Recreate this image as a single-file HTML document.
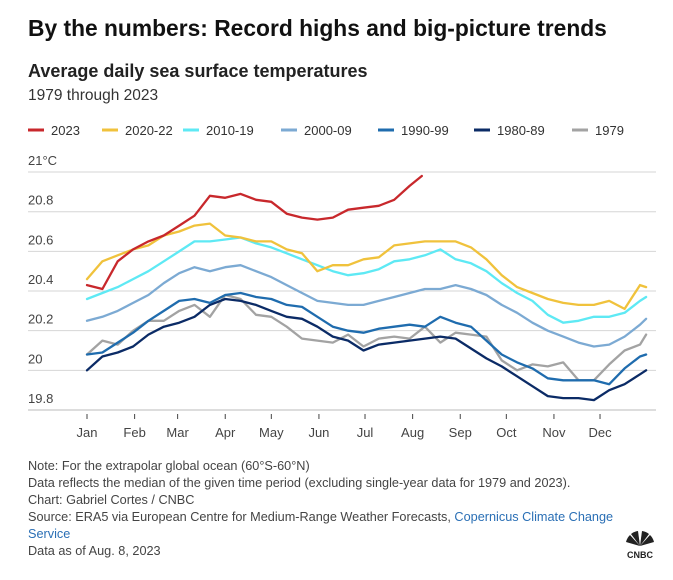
<!DOCTYPE html>
<html><head><meta charset="utf-8"><style>
body{margin:0;background:#fff;font-family:"Liberation Sans",sans-serif;}
#wrap{position:relative;width:673px;height:580px;overflow:hidden;}
.t{position:absolute;white-space:nowrap;}
</style></head><body>
<div id="wrap">
<div class="t" style="left:28px;top:15px;font-size:22.8px;font-weight:bold;color:#111;">By the numbers: Record highs and big-picture trends</div>
<div class="t" style="left:28px;top:61px;font-size:18px;font-weight:bold;color:#222;">Average daily sea surface temperatures</div>
<div class="t" style="left:28px;top:87px;font-size:15.5px;color:#333;">1979 through 2023</div>
<svg id="chart" width="673" height="460" style="position:absolute;left:0;top:0;"></svg>
<div class="t" style="left:28px;top:458px;font-size:12.7px;line-height:17px;color:#444;">
Note: For the extrapolar global ocean (60°S-60°N)<br>
Data reflects the median of the given time period (excluding single-year data for 1979 and 2023).<br>
Chart: Gabriel Cortes / CNBC<br>
Source: ERA5 via European Centre for Medium-Range Weather Forecasts, <span style="color:#2a6fb5">Copernicus Climate Change</span><br>
<span style="color:#2a6fb5">Service</span><br>
Data as of Aug. 8, 2023</div>
<div style="position:absolute;left:618px;top:528px;width:44px;height:32px;">
<svg width="44" height="32"><g transform="translate(22,18)">
<path d="M0 0 L-14 -4 A14 14 0 0 1 -10 -11 Z" fill="#222"/><path d="M0 0 L-9 -12 A14 14 0 0 1 -2 -15 Z" fill="#222"/><path d="M0 0 L2 -15 A14 14 0 0 1 9 -12 Z" fill="#222"/><path d="M0 0 L10 -11 A14 14 0 0 1 14 -4 Z" fill="#222"/></g>
<text x="22" y="30" font-size="9" font-weight="bold" text-anchor="middle" fill="#222" font-family="Liberation Sans">CNBC</text></svg></div>
</div>
<script>
const days=[0,10,20,30,40,50,60,70,80,90,100,110,120,130,140,150,160,170,180,190,200,210,220,230,240,250,260,270,280,290,300,310,320,330,340,350,360,364];
const days2023=[0,10,20,30,40,50,60,70,80,90,100,110,120,130,140,150,160,170,180,190,200,210,218];
const s2023=[20.43,20.41,20.55,20.61,20.65,20.68,20.73,20.78,20.88,20.87,20.89,20.86,20.85,20.79,20.77,20.76,20.77,20.81,20.82,20.83,20.86,20.93,20.98];
const s2020=[20.46,20.55,20.58,20.61,20.63,20.68,20.70,20.73,20.74,20.68,20.67,20.65,20.65,20.61,20.59,20.50,20.53,20.53,20.56,20.57,20.63,20.64,20.65,20.65,20.65,20.62,20.56,20.48,20.42,20.39,20.36,20.34,20.33,20.33,20.35,20.31,20.43,20.42];
const s2010=[20.36,20.39,20.42,20.46,20.50,20.55,20.60,20.65,20.65,20.66,20.67,20.64,20.62,20.59,20.56,20.53,20.50,20.48,20.49,20.51,20.55,20.56,20.58,20.61,20.56,20.54,20.50,20.44,20.39,20.35,20.28,20.24,20.25,20.27,20.27,20.29,20.35,20.37];
const s2000=[20.25,20.27,20.30,20.34,20.38,20.44,20.49,20.52,20.50,20.52,20.53,20.50,20.47,20.43,20.39,20.35,20.34,20.33,20.33,20.35,20.37,20.39,20.41,20.41,20.43,20.41,20.38,20.33,20.29,20.24,20.20,20.17,20.14,20.12,20.13,20.17,20.23,20.26];
const s1990=[20.08,20.09,20.14,20.19,20.25,20.30,20.35,20.36,20.34,20.38,20.39,20.37,20.36,20.33,20.32,20.27,20.22,20.20,20.19,20.21,20.22,20.23,20.22,20.27,20.24,20.22,20.15,20.08,20.04,20.01,19.96,19.95,19.95,19.95,19.93,20.01,20.07,20.08];
const s1980=[20.00,20.07,20.09,20.12,20.18,20.22,20.24,20.27,20.33,20.36,20.35,20.33,20.30,20.27,20.26,20.22,20.17,20.15,20.10,20.13,20.14,20.15,20.16,20.17,20.16,20.11,20.06,20.02,19.97,19.92,19.87,19.86,19.86,19.85,19.90,19.93,19.98,20.00];
const s1979=[20.08,20.15,20.13,20.20,20.25,20.25,20.30,20.33,20.27,20.38,20.36,20.28,20.27,20.22,20.16,20.15,20.14,20.18,20.12,20.16,20.17,20.16,20.22,20.14,20.19,20.18,20.17,20.05,20.00,20.03,20.02,20.04,19.95,19.95,20.03,20.10,20.13,20.18];
const yTicks=[19.8,20,20.2,20.4,20.6,20.8,21];
const yLabels=["19.8","20","20.2","20.4","20.6","20.8","21°C"];
const months=["Jan","Feb","Mar","Apr","May","Jun","Jul","Aug","Sep","Oct","Nov","Dec"];
const monthDays=[0,31,59,90,120,151,181,212,243,273,304,334];
const legendNames=["2023","2020-22","2010-19","2000-09","1990-99","1980-89","1979"];
const colors=["#c8282c","#f0c23c","#5ee9f4","#7caad3","#1f6cae","#0b2b66","#a3a3a3"];

const NS="http://www.w3.org/2000/svg";
const svg=document.getElementById('chart');
const x=d=>87+d*1.536;
const y=v=>410-(v-19.8)*198.3;
function mk(tag,attrs,parent){const e=document.createElementNS(NS,tag);for(const k in attrs)e.setAttribute(k,attrs[k]);(parent||svg).appendChild(e);return e;}

yTicks.forEach((v,i)=>{
  const g=mk('line',{x1:28,x2:656,y1:y(v),y2:y(v),stroke:i==0?'#bbb':'#d6d6d6','stroke-width':1});
  
  
  const t=mk('text',{x:28,y:y(v)-7,'font-size':13,fill:'#444','font-family':'Liberation Sans'});
  t.textContent=yLabels[i];
  
  
});
months.forEach((m,i)=>{
  const tk=mk('line',{x1:x(monthDays[i]),x2:x(monthDays[i]),y1:414,y2:419,stroke:'#444','stroke-width':1});
  
  
  const t=mk('text',{x:x(monthDays[i]),y:437,'font-size':13,fill:'#444','text-anchor':'middle','font-family':'Liberation Sans'});
  t.textContent=m;
  
  
});
const series=[[days2023,s2023],[days,s2020],[days,s2010],[days,s2000],[days,s1990],[days,s1980],[days,s1979]];
for(let i=series.length-1;i>=0;i--){
  const [dd,vv]=series[i];
  const pts=vv.map((v,j)=>x(dd[j]).toFixed(1)+','+y(v).toFixed(1)).join(' ');
  const p=mk('polyline',{points:pts,fill:'none',stroke:colors[i],'stroke-width':2.3,'stroke-linejoin':'round','stroke-linecap':'round'});
  
  
}
const legX=[28,102,183,281,378,474,572];
legendNames.forEach((n,i)=>{
  const l=mk('line',{x1:legX[i],x2:legX[i]+16,y1:130,y2:130,stroke:colors[i],'stroke-width':3});
  
  
  const t=mk('text',{x:legX[i]+23,y:135,'font-size':13,fill:'#333','font-family':'Liberation Sans'});
  t.textContent=n;
  
  
});
</script>
</body></html>
